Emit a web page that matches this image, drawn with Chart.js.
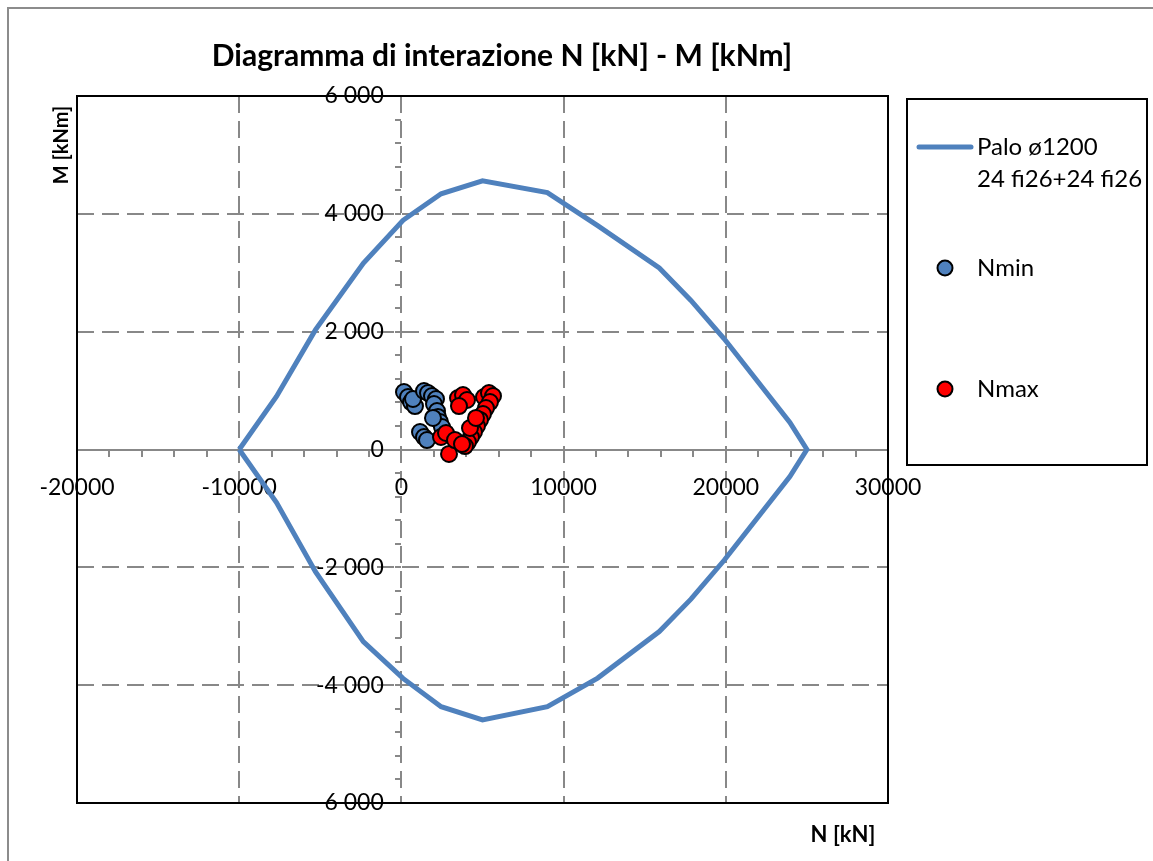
<!DOCTYPE html>
<html>
<head>
<meta charset="utf-8">
<script src="https://cdn.jsdelivr.net/npm/chart.js@4.4.1/dist/chart.umd.min.js"></script>
<style>
  html, body { margin: 0; padding: 0; background: #fff; }
  #wrap { position: relative; width: 1153px; height: 861px; }
  canvas { display: block; }
</style>
</head>
<body>
<div id="wrap"><canvas id="c" width="1153" height="861"></canvas></div>
<script>
// ---- Data ----
const chartTitle = 'Diagramma di interazione N [kN] - M [kNm]';
const xAxisTitle = 'N [kN]';
const yAxisTitle = 'M [kNm]';
const curveLabel = ['Palo ø1200', '24 fi26+24 fi26'];
const nminLabel = 'Nmin';
const nmaxLabel = 'Nmax';

// Interaction domain (closed contour): N [kN], M [kNm]
const curveN = [-10000, -7700, -5300, -2350, 100, 2450, 5000, 9000, 12100, 15900, 17850, 19900, 23950, 25000,
                23950, 19900, 17850, 15900, 12100, 9000, 5000, 2450, 100, -2350, -5300, -7700, -10000];
const curveM = [0, 900, 2030, 3160, 3890, 4340, 4560, 4360, 3800, 3080, 2530, 1880, 460, 0,
                -460, -1880, -2540, -3090, -3880, -4365, -4590, -4365, -3885, -3262, -2074, -900, 0];

// Load combinations
const nminN = [160, 407, 592, 838, 715, 1393, 1640, 1886, 2133, 2010, 2195, 2256, 2380, 2503, 1147, 1393, 1578, 1948];
const nminM = [976, 891, 806, 738, 857, 993, 959, 908, 857, 772, 653, 552, 467, 382, 297, 212, 161, 535];

const nmaxN = [2441, 2750, 2935, 3304, 3490, 3798, 4045, 3551, 5092, 5400, 5647, 5462, 5215, 5030, 4845, 4660, 4475, 4290, 4105, 3920, 3735, 4229, 4599];
const nmaxM = [212, 280, -76, 161, 874, 925, 840, 738, 891, 959, 908, 806, 704, 602, 501, 399, 297, 212, 127, 59, 93, 365, 535];

// Axis ticks
const xMin = -20000, xMax = 30000, xMinorStep = 2000, xMajorStep = 10000;
const yMin = -6000, yMax = 6000, yMinorStep = 400, yMajorStep = 2000;

const toPoints = (xs, ys) => xs.map((x, i) => ({ x: x, y: ys[i] }));

const FONT = 'Lato, "Open Sans", sans-serif';
const GRID = '#888888';
const BLUE = '#4F81BD';

const decoPlugin = {
  id: 'deco',
  beforeDraw(chart) {
    const ctx = chart.ctx;
    ctx.save();
    ctx.fillStyle = '#fff';
    ctx.fillRect(0, 0, chart.width, chart.height);
    ctx.strokeStyle = '#8c8c8c';
    ctx.lineWidth = 2;
    ctx.strokeRect(8, 8, chart.width + 20, chart.height + 20);
    ctx.restore();
  },
  afterDraw(chart) {
    const ctx = chart.ctx;
    const a = chart.chartArea;
    ctx.save();
    // plot frame
    ctx.strokeStyle = '#000';
    ctx.lineWidth = 2;
    ctx.strokeRect(a.left, a.top, a.right - a.left, a.bottom - a.top);
    // title
    ctx.fillStyle = '#000';
    ctx.textAlign = 'center';
    ctx.textBaseline = 'middle';
    ctx.font = 'bold 30px ' + FONT;
    ctx.fillText(chartTitle, 502, 56);
    // axis titles
    ctx.font = 'bold 22px ' + FONT;
    ctx.fillText(xAxisTitle, 843, 835);
    ctx.font = 'bold 20px ' + FONT;
    ctx.save();
    ctx.translate(62, 145);
    ctx.rotate(-Math.PI / 2);
    ctx.fillText(yAxisTitle, 0, 0);
    ctx.restore();
    // legend
    const lx = 907, ly = 99, lw = 240, lh = 366;
    ctx.strokeStyle = '#000';
    ctx.lineWidth = 2;
    ctx.strokeRect(lx, ly, lw, lh);
    ctx.strokeStyle = BLUE;
    ctx.lineWidth = 5;
    ctx.lineCap = 'round';
    ctx.beginPath();
    ctx.moveTo(919, 147);
    ctx.lineTo(971, 147);
    ctx.stroke();
    ctx.font = '24px ' + FONT;
    ctx.fillStyle = '#000';
    ctx.textAlign = 'left';
    ctx.fillText(curveLabel[0], 977, 147);
    ctx.fillText(curveLabel[1], 977, 179);
    const marker = (y, fill, txt) => {
      ctx.beginPath();
      ctx.arc(945, y, 7.5, 0, Math.PI * 2);
      ctx.fillStyle = fill;
      ctx.fill();
      ctx.lineWidth = 2;
      ctx.strokeStyle = '#000';
      ctx.stroke();
      ctx.fillStyle = '#000';
      ctx.fillText(txt, 977, y);
    };
    marker(268, BLUE, nminLabel);
    marker(389, '#FF0000', nmaxLabel);
    ctx.restore();
  }
};

new Chart(document.getElementById('c'), {
  type: 'scatter',
  data: {
    datasets: [
      {
        label: curveLabel.join(' '),
        data: toPoints(curveN, curveM),
        showLine: true,
        borderColor: BLUE,
        borderWidth: 5,
        pointRadius: 0,
        pointHoverRadius: 0,
        fill: false,
        tension: 0,
        order: 3
      },
      {
        label: nminLabel,
        data: toPoints(nminN, nminM),
        backgroundColor: BLUE,
        borderColor: '#000',
        borderWidth: 2,
        pointRadius: 8,
        order: 2
      },
      {
        label: nmaxLabel,
        data: toPoints(nmaxN, nmaxM),
        backgroundColor: '#FF0000',
        borderColor: '#000',
        borderWidth: 2,
        pointRadius: 8,
        order: 1
      }
    ]
  },
  options: {
    responsive: false,
    animation: false,
    events: [],
    layout: { padding: { left: 77, top: 96, right: 265, bottom: 58 } },
    plugins: {
      legend: { display: false },
      title: { display: false },
      tooltip: { enabled: false }
    },
    scales: {
      x: {
        type: 'linear',
        min: xMin, max: xMax,
        position: { y: 0 },
        afterFit(scale) { scale.height = 0; },
        afterBuildTicks(scale) {
          const t = [];
          for (let v = xMin; v <= xMax; v += xMinorStep) t.push({ value: v });
          scale.ticks = t;
        },
        ticks: {
          autoSkip: false,
          maxRotation: 0,
          padding: 18,
          color: '#000',
          font: { family: FONT, size: 23 },
          callback: (v) => (v % xMajorStep === 0 ? String(v) : '')
        },
        grid: {
          color: (c) => (c.tick && c.tick.value % xMajorStep === 0 && c.tick.value !== xMin && c.tick.value !== xMax) ? GRID : 'rgba(0,0,0,0)',
          lineWidth: 2,
          tickColor: GRID,
          tickLength: 6,
          tickWidth: 2
        },
        border: { display: true, color: GRID, width: 2, dash: [17, 8] }
      },
      y: {
        type: 'linear',
        min: yMin, max: yMax,
        position: { x: 0 },
        afterFit(scale) { scale.width = 0; },
        afterBuildTicks(scale) {
          const t = [];
          for (let v = yMin; v <= yMax; v += yMinorStep) t.push({ value: v });
          scale.ticks = t;
        },
        ticks: {
          autoSkip: false,
          padding: 0,
          color: '#000',
          font: { family: FONT, size: 23 },
          callback: (v) => (v % yMajorStep === 0 ? (v < 0 ? '-' : '') + Math.abs(v).toLocaleString('en-US').replace(/,/g, ' ') + '   ' : '')
        },
        grid: {
          color: (c) => (c.tick && c.tick.value % yMajorStep === 0 && c.tick.value !== 0 && c.tick.value !== yMin && c.tick.value !== yMax) ? GRID : 'rgba(0,0,0,0)',
          lineWidth: 2,
          tickColor: GRID,
          tickLength: 6,
          tickWidth: 2
        },
        border: { display: false, dash: [17, 8] }
      }
    }
  },
  plugins: [decoPlugin]
});
</script>
</body>
</html>
